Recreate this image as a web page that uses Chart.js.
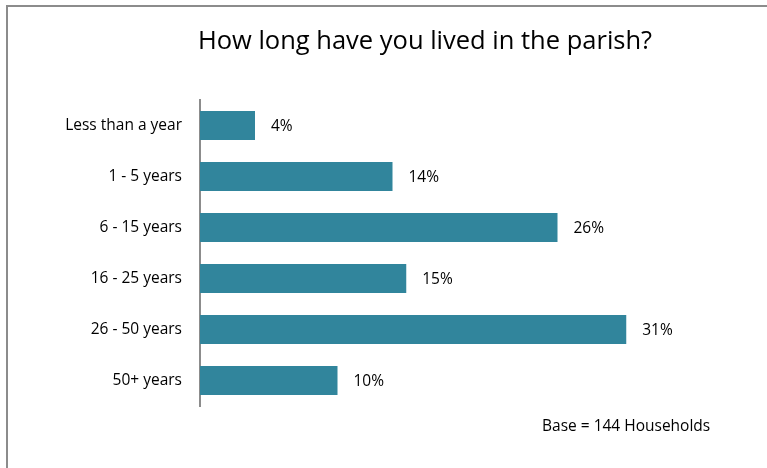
<!DOCTYPE html>
<html>
<head>
<meta charset="utf-8">
<script src="https://cdn.jsdelivr.net/npm/chart.js@4.4.1/dist/chart.umd.min.js"></script>
<style>
  body { margin: 0; background: #fff; }
  #wrap { width: 767px; height: 468px; }
</style>
</head>
<body>
<div id="wrap"><canvas id="chart" width="767" height="468"></canvas></div>
<script>
const TITLE = "How long have you lived in the parish?";
const NOTE = "Base = 144 Households";
const CATEGORIES = ["Less than a year", "1 - 5 years", "6 - 15 years", "16 - 25 years", "26 - 50 years", "50+ years"];
const PERCENTS = [4, 14, 26, 15, 31, 10];
const BAR_COLOR = "#31859c";
const FONT = "'Open Sans', 'Liberation Sans', sans-serif";

// frame, title, note and value labels
const extras = {
    id: "extras",
    afterDraw(chart) {
        const ctx = chart.ctx;
        ctx.save();
        ctx.strokeStyle = "#8c8c8c";
        ctx.lineWidth = 2;
        ctx.strokeRect(7, 6, 780, 480);

        ctx.fillStyle = "#000";
        ctx.font = "25.5px " + FONT;
        ctx.textAlign = "center";
        ctx.textBaseline = "middle";
        ctx.fillText(TITLE, 425, 42);

        ctx.font = "15.5px " + FONT;
        ctx.textAlign = "left";
        ctx.fillText(NOTE, 542, 427);

        const meta = chart.getDatasetMeta(0);
        meta.data.forEach((bar, i) => {
            ctx.fillText(PERCENTS[i] + "%", bar.x + 16, bar.y + 1);
        });
        ctx.restore();
    }
};

new Chart(document.getElementById("chart"), {
    type: "bar",
    data: {
        labels: CATEGORIES,
        datasets: [{
            data: PERCENTS,
            backgroundColor: BAR_COLOR,
            borderWidth: 0,
            barPercentage: 0.57,
            categoryPercentage: 1
        }]
    },
    options: {
        indexAxis: "y",
        responsive: false,
        animation: false,
        layout: { padding: { top: 100, bottom: 62, left: 7, right: 17 } },
        plugins: {
            legend: { display: false },
            tooltip: { enabled: false }
        },
        scales: {
            x: { display: false, min: 0, max: 40 },
            y: {
                afterFit(scale) { scale.width = 193; },
                grid: { display: false, drawTicks: false },
                border: { display: true, color: "#8c8c8c", width: 2 },
                ticks: { color: "#000", padding: 18, font: { family: FONT, size: 15.5 } }
            }
        }
    },
    plugins: [extras]
});
</script>
</body>
</html>
